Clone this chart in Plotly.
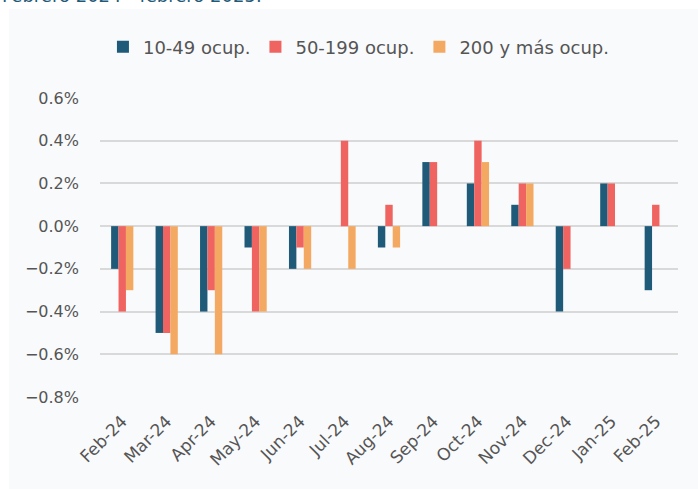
import plotly.graph_objects as go

categories = ["Feb-24", "Mar-24", "Apr-24", "May-24", "Jun-24", "Jul-24", "Aug-24",
              "Sep-24", "Oct-24", "Nov-24", "Dec-24", "Jan-25", "Feb-25"]
s_10_49 = [-0.2, -0.5, -0.4, -0.1, -0.2, 0.0, -0.1, 0.3, 0.2, 0.1, -0.4, 0.2, -0.3]
s_50_199 = [-0.4, -0.5, -0.3, -0.4, -0.1, 0.4, 0.1, 0.3, 0.4, 0.2, -0.2, 0.2, 0.1]
s_200 = [-0.3, -0.6, -0.6, -0.4, -0.2, -0.2, -0.1, 0.0, 0.3, 0.2, 0.0, 0.0, 0.0]
series_names = ["10-49 ocup.", "50-199 ocup.", "200 y más ocup."]
colors = ["#1f5a78", "#ef6461", "#f4a962"]
y_ticks = [0.6, 0.4, 0.2, 0.0, -0.2, -0.4, -0.6, -0.8]
y_ticklabels = ["0.6%", "0.4%", "0.2%", "0.0%", "\u22120.2%", "\u22120.4%", "\u22120.6%", "\u22120.8%"]

FONT = "DejaVu Sans"
BG = "#f9fafc"

fig = go.Figure()
for name, vals, col in zip(series_names, [s_10_49, s_50_199, s_200], colors):
    fig.add_trace(go.Bar(x=categories, y=vals, name=name, marker_color=col,
                         marker_line_width=0))

fig.update_layout(
    width=698, height=489,
    margin=dict(l=100, r=20, t=98, b=92),
    paper_bgcolor="white",
    plot_bgcolor=BG,
    barmode="group",
    bargap=0.5,
    bargroupgap=0,
    font=dict(family=FONT, color="#555555", size=15),
    showlegend=True,
    legend=dict(orientation="h", x=0.448, xanchor="center", y=1.17, yanchor="middle",
                font=dict(size=18, color="#555555"), bgcolor="rgba(0,0,0,0)",
                itemwidth=30, traceorder="normal"),
    shapes=[dict(type="rect", xref="paper", yref="paper",
                 x0=-91/578, x1=1 + 20/578, y0=-92/299, y1=1 + 89/299,
                 fillcolor=BG, line_width=0, layer="below")],
    annotations=[dict(text="Febrero 2024 - febrero 2025.", xref="paper", yref="paper",
                      x=-100/578, y=1 + 90.5/299, xanchor="left", yanchor="bottom",
                      showarrow=False, font=dict(size=18, color="#1f5a78", family=FONT))],
)
fig.update_xaxes(tickangle=-45, showgrid=False, ticks="", ticklabelstandoff=10,
                 tickfont=dict(size=17, color="#555555"))
fig.update_yaxes(range=[-0.8, 0.6], tickvals=y_ticks, ticktext=y_ticklabels,
                 showgrid=True, gridcolor="#d9d9d9", gridwidth=2,
                 zeroline=True, zerolinecolor="#d9d9d9", zerolinewidth=2,
                 ticks="", ticklen=0, ticklabelstandoff=20,
                 tickfont=dict(size=16, color="#555555"))

fig.write_html("out.html", post_script="document.body.style.margin='0';",
               config={"displayModeBar": False})
